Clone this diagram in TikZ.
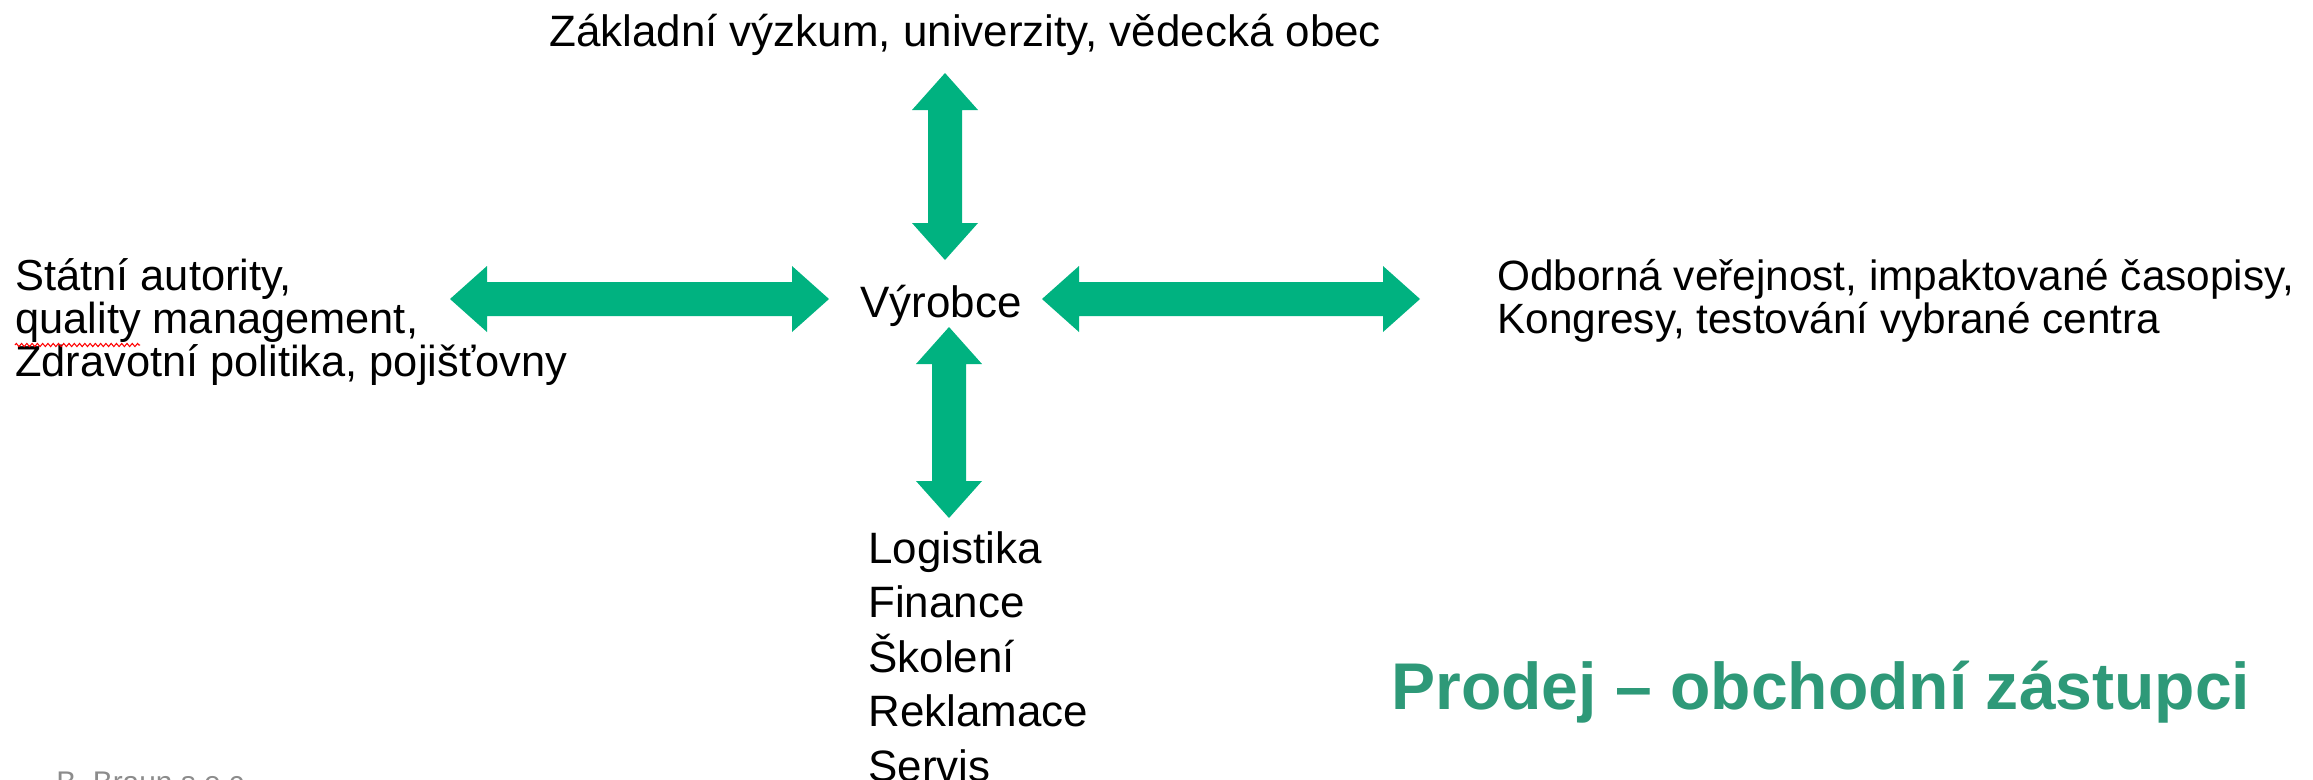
\documentclass[tikz,border=0pt]{standalone}
\usepackage{fontspec}
\setmainfont{Liberation Sans}
\usetikzlibrary{calc,decorations.pathmorphing}
\definecolor{arrowgreen}{RGB}{0,178,128}
\definecolor{titlegreen}{RGB}{46,153,120}
\definecolor{footgray}{RGB}{140,140,140}
\newcommand{\blockarrowH}[2]{%
  \fill[blockarrow] (#1) -- ($(#1)+(37,-33)$) -- ($(#1)+(37,-17)$) -- ($(#2)+(-37,-17)$)
    -- ($(#2)+(-37,-33)$) -- (#2) -- ($(#2)+(-37,33)$) -- ($(#2)+(-37,17)$)
    -- ($(#1)+(37,17)$) -- ($(#1)+(37,33)$) -- cycle;}
\newcommand{\blockarrowV}[2]{%
  \fill[blockarrow] (#1) -- ($(#1)+(33,37)$) -- ($(#1)+(17,37)$) -- ($(#2)+(17,-37)$)
    -- ($(#2)+(33,-37)$) -- (#2) -- ($(#2)+(-33,-37)$) -- ($(#2)+(-17,-37)$)
    -- ($(#1)+(-17,37)$) -- ($(#1)+(-33,37)$) -- cycle;}
\begin{document}
\begin{tikzpicture}[x=0.02cm,y=-0.02cm,
  blockarrow/.style={fill=arrowgreen},
  txt/.style={inner sep=0pt, anchor=base west, font=\fontsize{25}{30}\selectfont},
  lefttxt/.style={txt, font=\fontsize{24.7}{30}\selectfont},
  righttxt/.style={txt, font=\fontsize{24.1}{30}\selectfont},
  title/.style={inner sep=0pt, anchor=base west, text=titlegreen, font=\fontsize{37.6}{44}\selectfont\bfseries},
  foot/.style={inner sep=0pt, anchor=base west, text=footgray, font=\fontsize{17}{20}\selectfont}]
\useasboundingbox (0,0) rectangle (2313,779);

% texts
\node[txt] (top) at (549,46) {Základní výzkum, univerzity, vědecká obec};
\node[txt] (center) at (860,317) {Výrobce};
\node[lefttxt] (left1) at (15,290) {Státní autority,};
\node[lefttxt] (left2) at (15,333) {quality management,};
\node[lefttxt] (left3) at (15,376) {Zdravotní politika, pojišťovny};
\node[righttxt] (right1) at (1497,290) {Odborná veřejnost, impaktované časopisy,};
\node[righttxt] (right2) at (1497,333) {Kongresy, testování vybrané centra};
\node[txt] (bot1) at (868,563) {Logistika};
\node[txt] (bot2) at (868,617) {Finance};
\node[txt] (bot3) at (868,672) {Školení};
\node[txt] (bot4) at (868,726) {Reklamace};
\node[txt] (bot5) at (868,781) {Servis};
\node[title] (heading) at (1391,709) {Prodej – obchodní zástupci};
\node[foot] (footer) at (56,792) {B. Braun s.e.c.};

% spell-check squiggle
\draw[red, line width=0.6pt, decorate, decoration={zigzag, segment length=3pt, amplitude=0.9pt}]
  (15,345) -- (140,345);

% arrow end points
\coordinate (lA) at (450,299);
\coordinate (lB) at (829,299);
\coordinate (rA) at (1042,299);
\coordinate (rB) at (1420,299);
\coordinate (tA) at (945,73);
\coordinate (tB) at (945,260);
\coordinate (bA) at (949,327);
\coordinate (bB) at (949,518);

\blockarrowH{lA}{lB}
\blockarrowH{rA}{rB}
\blockarrowV{tA}{tB}
\blockarrowV{bA}{bB}
\end{tikzpicture}
\end{document}
